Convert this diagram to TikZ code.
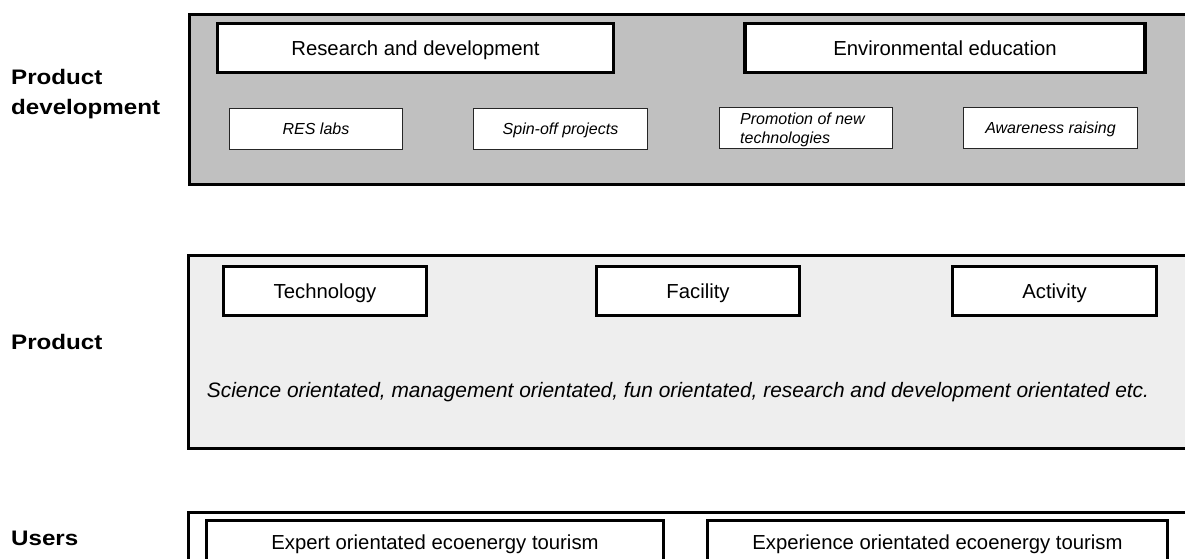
\documentclass[tikz,border=0pt]{standalone}
\usepackage{fontspec}
\setmainfont{Liberation Sans}
\newfontfamily\lblfont[FakeStretch=1.15]{Liberation Sans}
\definecolor{pdgray}{HTML}{C0C0C0}
\definecolor{prgray}{HTML}{EEEEEE}
\begin{document}
\begin{tikzpicture}[x=1pt,y=-1pt,
  panel/.style={draw=black, line width=3pt, inner sep=0pt, anchor=north west, minimum width=1010pt},
  bigbox/.style={draw=black, fill=white, line width=3.5pt, inner sep=0pt, minimum height=49pt,
    text height=14.5pt, text depth=0pt, font=\fontsize{20.3}{24}\selectfont},
  midbox/.style={draw=black, fill=white, line width=3pt, inner sep=0pt, minimum height=49pt,
    text height=14.5pt, text depth=0pt, font=\fontsize{20.3}{24}\selectfont},
  smallbox/.style={draw=black!85, fill=white, line width=1.2pt, inner sep=0pt, minimum height=41pt,
    text height=11.5pt, text depth=0pt, font=\fontsize{16}{19}\selectfont\itshape},
  lbl/.style={anchor=base west, inner sep=0pt, align=left, font=\fontsize{21}{30}\lblfont\bfseries}]
\useasboundingbox (0,0) rectangle (1185,559);
\fill[white] (0,0) rectangle (1185,559);

% Product development panel
\node[panel, fill=pdgray, minimum height=170pt] (pdpanel) at (187.5,13) {};
\node[bigbox, minimum width=396pt] (rd) at (415.5,48) {Research and development};
\node[bigbox, minimum width=400pt] (ee) at (945,48) {Environmental education};
\node[smallbox, minimum width=173pt] (res) at (316,129) {RES labs};
\node[smallbox, minimum width=174pt] (spin) at (560.5,129) {Spin-off projects};
\node[smallbox, minimum width=173pt] (prom) at (806,128) {};
\node[anchor=base west, inner sep=0pt, align=left, font=\fontsize{16}{19}\selectfont\itshape] (promtxt) at (740,143) {Promotion of new\\technologies};
\node[smallbox, minimum width=174pt] (aware) at (1050.5,128) {Awareness raising};

% Product panel
\node[panel, fill=prgray, minimum height=193pt] (prpanel) at (186.5,253.5) {};
\node[midbox, minimum width=203pt] (tech) at (325,291) {Technology};
\node[midbox, minimum width=203pt] (fac) at (698,291) {Facility};
\node[midbox, minimum width=204pt] (act) at (1054.5,291) {Activity};
\node[anchor=base, inner sep=0pt, font=\fontsize{20.9}{24}\selectfont\itshape] (orient) at (678,397) {Science orientated, management orientated, fun orientated, research and development orientated etc.};

% Users panel
\node[panel, fill=white, minimum height=100pt] (uspanel) at (186.5,510.5) {};
\node[midbox, minimum width=457pt, minimum height=43pt] (expert) at (435,542) {Expert orientated ecoenergy tourism};
\node[midbox, minimum width=460pt, minimum height=43pt] (exper) at (937.5,542) {Experience orientated ecoenergy tourism};

% Row labels
\node[lbl] (lpd) at (11,115) {Product\\development};
\node[lbl] (lpr) at (11,349) {Product};
\node[lbl] (lus) at (11,545) {Users};
\end{tikzpicture}
\end{document}
